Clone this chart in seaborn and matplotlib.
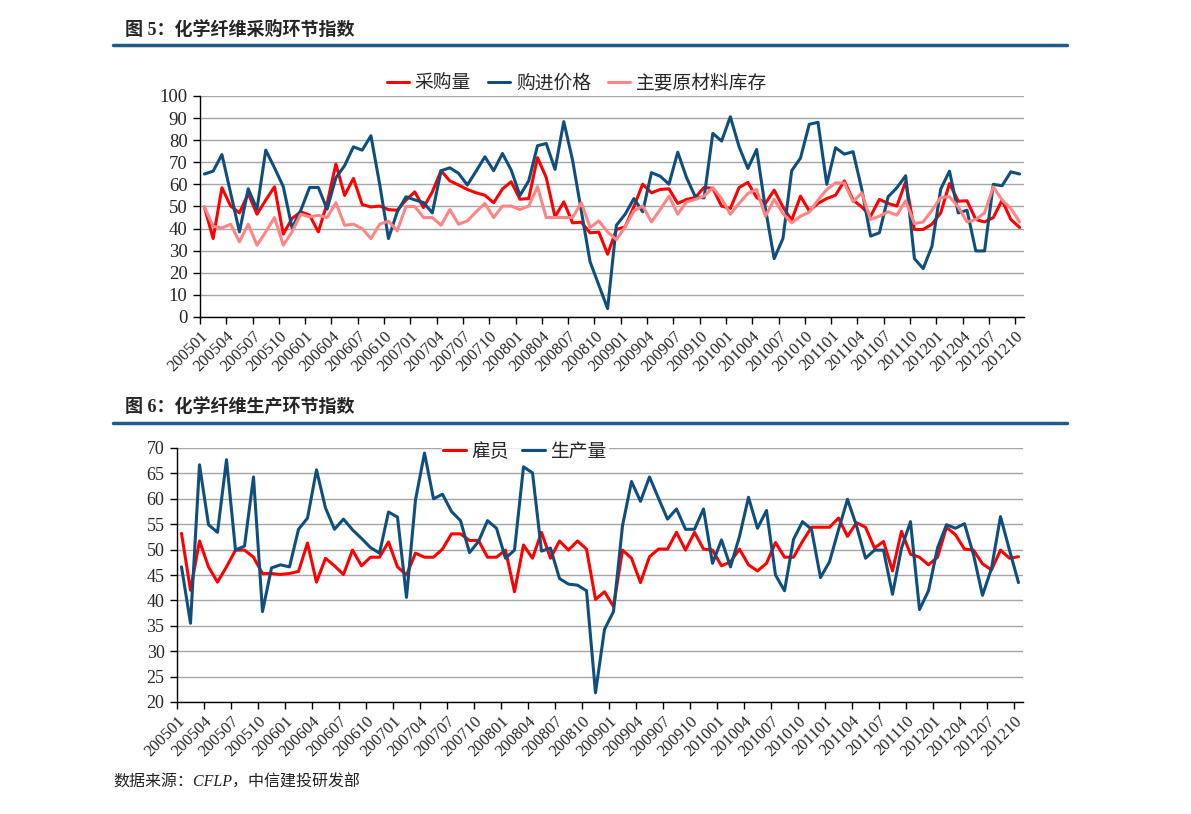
import pandas as pd
import seaborn as sns
import matplotlib.pyplot as plt
from matplotlib.lines import Line2D

# months 200501 .. 201210
months = pd.period_range('2005-01', '2012-10', freq='M').strftime('%Y%m').tolist()

# 图 5 series
purchase_qty = [49.8, 35.5, 58.5, 50.2, 47.1, 55.9, 46.5, 52.9, 58.9, 37.5,
                44.6, 47.6, 46.1, 38.5, 51.4, 69.2, 55.0, 62.7, 50.9, 49.8,
                50.2, 48.6, 48.3, 52.9, 56.6, 49.5, 56.6, 66.2, 61.6, 59.7,
                57.7, 56.2, 55.1, 51.7, 57.9, 61.2, 53.3, 53.6, 72.1, 63.1,
                45.3, 52.1, 42.6, 42.9, 38.1, 38.4, 28.4, 39.6, 40.8, 50.0,
                60.1, 56.2, 57.7, 58.0, 51.4, 53.2, 54.1, 58.6, 58.2, 50.2,
                49.1, 58.6, 60.9, 54.1, 51.4, 57.4, 49.8, 43.8, 54.7, 48.0,
                51.4, 53.6, 55.1, 61.6, 52.9, 49.8, 45.6, 53.2, 51.4, 50.2,
                61.2, 39.6, 39.6, 42.0, 47.1, 60.4, 52.4, 52.6, 44.1, 43.0,
                45.0, 52.9, 44.1, 40.5]
purchase_price = [64.7, 66.0, 73.5, 56.0, 38.5, 58.0, 48.8, 75.5, 67.5, 59.0,
                  40.3, 48.3, 58.6, 58.6, 48.8, 63.0, 68.5, 77.0, 75.5, 82.0,
                  60.0, 35.5, 47.6, 54.4, 53.0, 51.8, 47.1, 66.2, 67.5, 65.0,
                  59.7, 66.0, 72.5, 66.2, 74.0, 66.5, 55.0, 61.6, 77.5, 78.5,
                  66.8, 88.4, 71.0, 48.0, 25.0, 14.4, 3.8, 41.5, 46.5, 53.6,
                  47.6, 65.3, 63.7, 60.1, 74.6, 63.1, 54.4, 53.9, 83.1, 79.6,
                  90.6, 77.0, 67.2, 75.8, 49.1, 26.4, 35.5, 66.2, 71.9, 87.2,
                  88.1, 60.0, 76.6, 73.7, 74.8, 57.7, 36.6, 38.1, 54.4, 58.5,
                  63.9, 26.4, 21.9, 32.0, 57.9, 66.0, 47.1, 48.3, 29.9, 29.9,
                  60.0, 59.4, 65.7, 64.7]
raw_stock = [49.8, 41.0, 40.3, 42.0, 34.0, 42.0, 32.5, 38.5, 45.0, 32.5,
             38.5, 46.5, 45.3, 46.0, 45.0, 51.7, 41.5, 42.0, 40.0, 35.5,
             42.0, 43.4, 39.0, 50.0, 50.0, 45.0, 45.0, 41.5, 48.6, 42.0,
             43.5, 47.6, 51.4, 45.0, 50.2, 50.2, 48.6, 50.2, 58.9, 45.0,
             45.0, 45.0, 45.0, 51.7, 40.5, 43.5, 38.5, 35.0, 40.8, 48.0,
             50.2, 43.0, 48.6, 54.7, 46.5, 52.1, 53.2, 54.7, 58.5, 53.6,
             46.5, 51.4, 55.9, 57.7, 45.6, 53.2, 46.8, 42.6, 45.6, 47.4,
             52.9, 57.7, 60.7, 60.7, 52.1, 56.2, 44.1, 45.6, 47.6, 46.1,
             52.6, 42.3, 43.0, 48.3, 54.1, 54.4, 49.8, 43.0, 44.1, 47.1,
             58.9, 52.9, 49.1, 43.0]

# 图 6 series
employees = [53.2, 42.0, 51.7, 46.6, 43.6, 46.6, 49.9, 49.9, 48.5, 45.3,
             45.3, 45.1, 45.3, 45.7, 51.3, 43.6, 48.3, 46.8, 45.1, 49.9,
             46.8, 48.5, 48.5, 51.5, 46.6, 45.0, 49.3, 48.5, 48.5, 50.1,
             53.1, 53.1, 51.8, 51.8, 48.5, 48.5, 49.9, 41.7, 50.9, 48.3,
             53.4, 48.3, 51.7, 49.9, 51.7, 50.1, 40.2, 41.7, 38.8, 49.9,
             48.3, 43.5, 48.6, 50.1, 50.1, 53.4, 49.9, 53.4, 50.1, 49.9,
             46.8, 47.6, 50.1, 47.0, 45.8, 47.3, 51.4, 48.5, 48.5, 51.6,
             54.4, 54.4, 54.4, 56.2, 52.6, 55.3, 54.4, 50.3, 51.6, 45.8,
             53.6, 49.1, 48.5, 47.0, 48.5, 54.4, 52.9, 50.1, 49.9, 47.2,
             46.0, 49.9, 48.3, 48.6]
output = [46.6, 35.5, 66.7, 54.9, 53.4, 67.7, 49.9, 50.7, 64.3, 37.8,
          46.4, 47.0, 46.6, 54.0, 56.2, 65.7, 58.2, 54.0, 56.0, 53.9,
          52.2, 50.4, 49.3, 57.4, 56.4, 40.6, 59.8, 69.0, 60.0, 60.9,
          57.5, 55.7, 49.4, 51.6, 55.7, 54.2, 48.3, 49.9, 66.3, 65.1,
          49.7, 50.3, 44.3, 43.2, 43.0, 41.9, 21.8, 34.3, 37.8, 54.7,
          63.4, 59.5, 64.3, 60.1, 56.0, 58.0, 54.0, 54.0, 58.0, 47.3,
          51.9, 46.6, 52.6, 60.3, 54.2, 57.7, 45.0, 41.9, 52.0, 55.5,
          54.0, 44.5, 47.6, 53.9, 59.9, 54.7, 48.3, 49.9, 49.9, 41.2,
          50.3, 55.5, 38.2, 41.9, 50.3, 54.9, 54.2, 55.1, 49.0, 41.0,
          46.3, 56.5, 49.9, 43.5]

RED = '#FF0000'
NAVY = '#0E4F7D'
PINK = '#FF8585'
RULE = '#1F5A8A'
GRID = '#A6A6A6'

sns.set_theme(style='white')
fonts = ['Liberation Serif', 'Noto Sans CJK SC']
plt.rcParams['font.family'] = fonts

W, H = 1191, 814
fig = plt.figure(figsize=(W / 100, H / 100), dpi=100)


def box(l, t, r, b):
    return [l / W, 1 - b / H, (r - l) / W, (b - t) / H]


idx = list(range(len(months)))


def style_axis(ax, ymin, ymax, step, fs):
    ax.set_xlim(-0.5, len(months) - 0.5)
    ax.set_ylim(ymin, ymax)
    ax.set_yticks(range(ymin, ymax + 1, step))
    ax.grid(axis='y', color=GRID, lw=1.0)
    ax.set_axisbelow(True)
    for s in ['top', 'right']:
        ax.spines[s].set_visible(False)
    for s in ['left', 'bottom']:
        ax.spines[s].set_color('black')
        ax.spines[s].set_linewidth(1.0)
    ticks = [i - 0.5 for i in idx[::3]]
    ax.set_xticks(ticks)
    ax.set_xticklabels(months[::3], rotation=45, ha='right',
                       rotation_mode='anchor', fontsize=12)
    ax.tick_params(axis='x', bottom=True, length=5, width=1, color='black', pad=3)
    ax.tick_params(axis='y', left=True, length=5, width=1, color='black',
                   labelsize=fs, pad=4)
    ax.set_xlabel('')
    ax.set_ylabel('')


# ---- 图 5
ax1 = fig.add_axes(box(200, 96, 1024, 317))
sns.lineplot(x=idx, y=purchase_qty, color=RED, lw=2.2, ax=ax1)
sns.lineplot(x=idx, y=purchase_price, color=NAVY, lw=2.2, ax=ax1)
sns.lineplot(x=idx, y=raw_stock, color=PINK, lw=2.2, ax=ax1)
style_axis(ax1, 0, 100, 10, 13.5)

h1 = [Line2D([], [], color=c, lw=2.2) for c in (RED, NAVY, PINK)]
fig.legend(h1, ['采购量', '购进价格', '主要原材料库存'], loc='center',
           bbox_to_anchor=(577 / W, 1 - 84 / H), ncol=3, frameon=False,
           fontsize=13.5, handlelength=1.2, handletextpad=0.3, columnspacing=0.9)

# ---- 图 6
ax2 = fig.add_axes(box(177, 448, 1023, 702))
sns.lineplot(x=idx, y=employees, color=RED, lw=2.2, ax=ax2)
sns.lineplot(x=idx, y=output, color=NAVY, lw=2.2, ax=ax2)
style_axis(ax2, 20, 70, 5, 13)

h2 = [Line2D([], [], color=c, lw=2.2) for c in (RED, NAVY)]
leg2 = ax2.legend(h2, ['雇员', '生产量'], loc='center',
                  bbox_to_anchor=(525 / W, 1 - 452 / H),
                  bbox_transform=fig.transFigure, ncol=2, frameon=True,
                  fontsize=13.5, handlelength=1.2, handletextpad=0.3,
                  columnspacing=0.7, borderpad=0.1, fancybox=False)
leg2.get_frame().set_facecolor('white')
leg2.get_frame().set_edgecolor('white')

# ---- titles, rules, source
fig.text(125 / W, 1 - 30 / H, '图 5：化学纤维采购环节指数', fontsize=13,
         fontweight='bold', va='center', ha='left')
fig.add_artist(Line2D([113 / W, 1067 / W], [1 - 45 / H] * 2, color=RULE, lw=2.5))
fig.text(125 / W, 1 - 408 / H, '图 6：化学纤维生产环节指数', fontsize=13,
         fontweight='bold', va='center', ha='left')
fig.add_artist(Line2D([113 / W, 1067 / W], [1 - 423 / H] * 2, color=RULE, lw=2.5))
fig.text(113 / W, 1 - 783 / H, '数据来源：CFLP，中信建投研发部', fontsize=11.5,
         style='italic', va='center', ha='left', color='#222222')

fig.savefig('out.png', dpi=100)
